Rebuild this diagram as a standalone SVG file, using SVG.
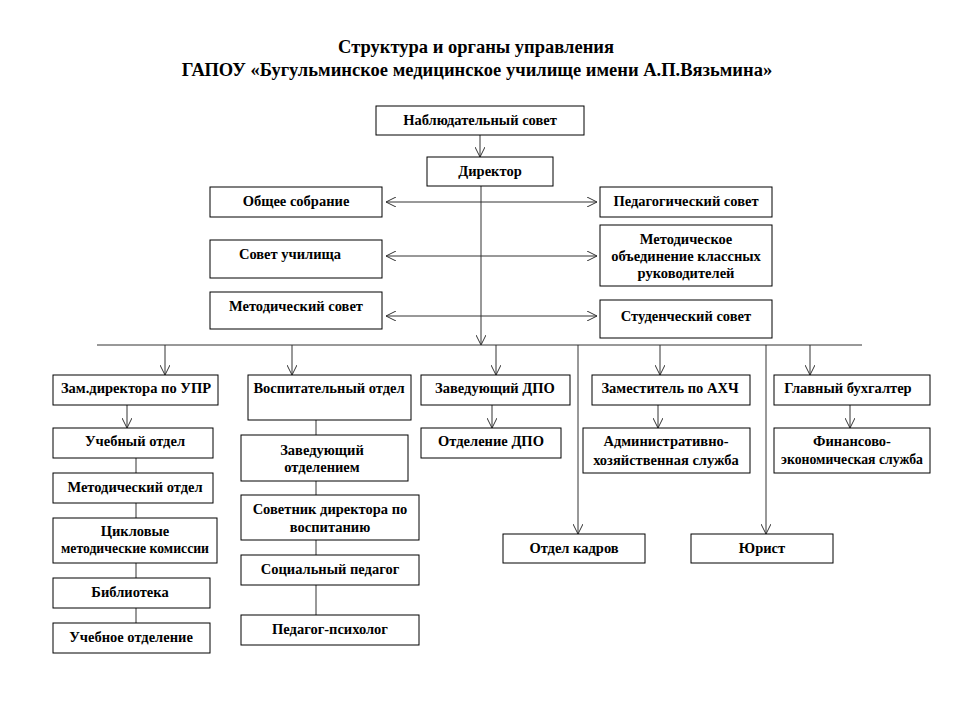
<svg xmlns="http://www.w3.org/2000/svg" width="960" height="720" viewBox="0 0 960 720">
<defs>
<marker id="arr" viewBox="0 0 10 10" refX="10" refY="5" markerWidth="10" markerHeight="10" markerUnits="userSpaceOnUse" orient="auto-start-reverse">
<path d="M0,0 L10,5 L0,10" fill="none" stroke="#333" stroke-width="1"/>
</marker>
<style>
rect{fill:#fff;stroke:#000;stroke-width:1}
text{font-family:"Liberation Serif","Times New Roman",serif;font-weight:bold;font-size:14.5px;text-anchor:middle;fill:#000}
.t{font-size:18.5px}
#conn line{stroke:#333;stroke-width:1}
.a{marker-end:url(#arr)}
.d{marker-start:url(#arr);marker-end:url(#arr)}
</style>
</defs>
<rect x="0" y="0" width="960" height="720" style="fill:#fff;stroke:none"/>
<g id="title">
<text class="t" x="476" y="53">Структура и органы управления</text>
<text class="t" x="477" y="76">ГАПОУ «Бугульминское медицинское училище имени А.П.Вязьмина»</text>
</g>
<g id="conn">
<line class="a" x1="480" y1="135" x2="480" y2="157"/>
<line class="a" x1="481" y1="186" x2="481" y2="345"/>
<line class="d" x1="386" y1="202" x2="597" y2="202"/>
<line class="d" x1="386" y1="256" x2="597" y2="256"/>
<line class="d" x1="386" y1="316" x2="597" y2="316"/>
<line x1="97" y1="345" x2="862" y2="345"/>
<line class="a" x1="165" y1="345" x2="165" y2="375"/>
<line class="a" x1="292" y1="345" x2="292" y2="375"/>
<line class="a" x1="496" y1="345" x2="496" y2="375"/>
<line class="a" x1="578" y1="345" x2="578" y2="534"/>
<line class="a" x1="660" y1="345" x2="660" y2="375"/>
<line class="a" x1="766" y1="345" x2="766" y2="534"/>
<line class="a" x1="810" y1="345" x2="810" y2="375"/>
<line class="a" x1="127" y1="405" x2="127" y2="428"/>
<line x1="136" y1="458" x2="136" y2="473"/>
<line x1="136" y1="503" x2="136" y2="518"/>
<line x1="136" y1="563" x2="136" y2="578"/>
<line x1="136" y1="608" x2="136" y2="623"/>
<line x1="316" y1="420" x2="316" y2="435"/>
<line x1="316" y1="481" x2="316" y2="495"/>
<line x1="316" y1="540" x2="316" y2="555"/>
<line x1="316" y1="585" x2="316" y2="615"/>
<line class="a" x1="492" y1="405" x2="492" y2="428"/>
<line class="a" x1="658" y1="405" x2="658" y2="428"/>
<line class="a" x1="850" y1="405" x2="850" y2="428"/>
</g>
<g id="nabl"><rect x="376" y="106" width="208" height="29"/><text x="480" y="125">Наблюдательный совет</text></g>
<g id="director"><rect x="427" y="157" width="126" height="29"/><text x="490" y="176">Директор</text></g>
<g id="obshee"><rect x="210" y="187" width="172" height="30"/><text x="296" y="206">Общее собрание</text></g>
<g id="pedsovet"><rect x="600" y="187" width="172" height="30"/><text x="686" y="206">Педагогический совет</text></g>
<g id="sovet-uch"><rect x="210" y="240" width="172" height="38"/><text x="290" y="259">Совет училища</text></g>
<g id="metod-ob"><rect x="600" y="225" width="172" height="61"/><text x="686" y="244">Методическое</text><text x="686" y="261">объединение классных</text><text x="686" y="278">руководителей</text></g>
<g id="metod-sovet"><rect x="210" y="292" width="172" height="37"/><text x="296" y="311">Методический совет</text></g>
<g id="stud-sovet"><rect x="600" y="300" width="172" height="38"/><text x="686" y="321">Студенческий совет</text></g>
<g id="zam-upr"><rect x="53" y="375" width="165" height="30"/><text x="136" y="393">Зам.директора по УПР</text></g>
<g id="vosp"><rect x="248" y="375" width="163" height="45"/><text x="329" y="393">Воспитательный отдел</text></g>
<g id="zav-dpo"><rect x="421" y="375" width="149" height="30"/><text x="495" y="393">Заведующий ДПО</text></g>
<g id="zam-ahch"><rect x="592" y="375" width="158" height="30"/><text x="670" y="393">Заместитель по АХЧ</text></g>
<g id="glav-buh"><rect x="774" y="375" width="156" height="30"/><text x="848" y="393">Главный бухгалтер</text></g>
<g id="ucheb-otdel"><rect x="53" y="428" width="160" height="30"/><text x="135" y="446">Учебный отдел</text></g>
<g id="zav-otd"><rect x="241" y="435" width="167" height="46"/><text x="322" y="455">Заведующий</text><text x="322" y="472">отделением</text></g>
<g id="otd-dpo"><rect x="421" y="428" width="140" height="30"/><text x="491" y="446">Отделение ДПО</text></g>
<g id="ahs"><rect x="583" y="428" width="167" height="45"/><text x="666" y="446">Административно-</text><text x="666" y="465">хозяйственная служба</text></g>
<g id="fin"><rect x="774" y="428" width="156" height="45"/><text x="852" y="446">Финансово-</text><text x="852" y="464" textLength="142" lengthAdjust="spacingAndGlyphs">экономическая служба</text></g>
<g id="metod-otdel"><rect x="53" y="473" width="160" height="30"/><text x="135" y="492">Методический отдел</text></g>
<g id="cmk"><rect x="53" y="518" width="164" height="45"/><text x="135" y="536">Цикловые</text><text x="135" y="553" textLength="148" lengthAdjust="spacingAndGlyphs">методические комиссии</text></g>
<g id="biblio"><rect x="53" y="578" width="157" height="30"/><text x="130" y="597">Библиотека</text></g>
<g id="ucheb-otd"><rect x="53" y="623" width="157" height="30"/><text x="131" y="642">Учебное отделение</text></g>
<g id="sovetnik"><rect x="241" y="495" width="178" height="45"/><text x="330" y="514">Советник директора по</text><text x="330" y="532">воспитанию</text></g>
<g id="soc-ped"><rect x="241" y="555" width="178" height="30"/><text x="330" y="574">Социальный педагог</text></g>
<g id="psiholog"><rect x="241" y="615" width="178" height="30"/><text x="330" y="634">Педагог-психолог</text></g>
<g id="kadry"><rect x="503" y="534" width="142" height="29"/><text x="574" y="553">Отдел кадров</text></g>
<g id="yurist"><rect x="691" y="534" width="142" height="29"/><text x="762" y="553">Юрист</text></g>
</svg>
